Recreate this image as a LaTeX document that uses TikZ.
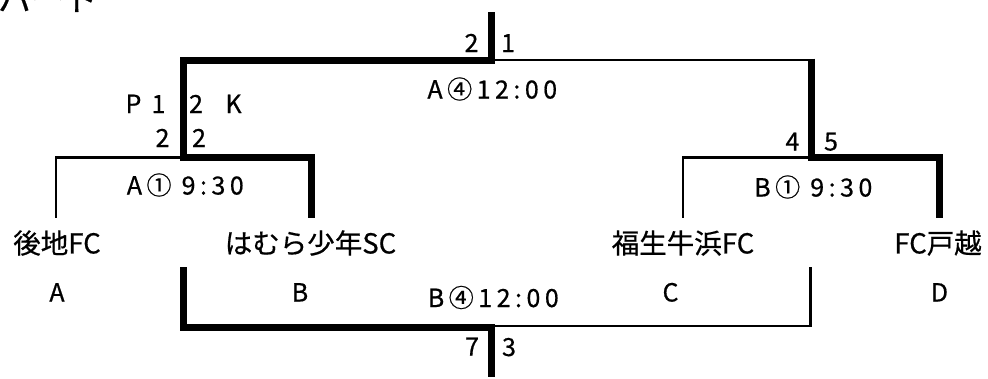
\documentclass[tikz,border=0pt]{standalone}
\usepackage{fontspec}
\setmainfont[FakeBold=0.6]{Noto Sans CJK JP}
\newfontfamily\labfont[FakeBold=0.6]{Noto Sans CJK JP}
\newfontfamily\timefont[LetterSpace=18,FakeBold=0.6]{Noto Sans CJK JP}
\begin{document}
\begin{tikzpicture}[x=1pt,y=-1pt,
  win/.style={line width=7pt, line join=miter},
  lose/.style={line width=2.5pt, line join=miter},
  team/.style={font=\fontsize{27.5}{30}\selectfont, inner sep=0pt, text height=24.2pt, text depth=3.3pt},
  lab/.style={font=\labfont\fontsize{25}{30}\selectfont, inner sep=0pt, text height=22pt, text depth=3pt},
  tim/.style={font=\timefont\fontsize{25}{30}\selectfont, inner sep=0pt, text height=22pt, text depth=3pt}]
\clip (0,0) rectangle (988,378);
\useasboundingbox (0,0) rectangle (988,378);
% coordinates of the bracket
\coordinate (top) at (491,12);
\coordinate (fin) at (491,60);
\coordinate (lw) at (183.5,60);
\coordinate (rw) at (811,60);
\coordinate (rwt) at (811,58.5);
\coordinate (ab) at (183.5,157.5);
\coordinate (aL) at (56,157.5);
\coordinate (aE) at (56,218);
\coordinate (bR) at (311,157.5);
\coordinate (bE) at (311,218);
\coordinate (cd) at (811,157.5);
\coordinate (cL) at (683,157.5);
\coordinate (cE) at (683,218);
\coordinate (dR) at (939,157.5);
\coordinate (dE) at (939,218);
\coordinate (tl) at (183.5,267);
\coordinate (tlc) at (183.5,327.5);
\coordinate (tm) at (491,327.5);
\coordinate (tmt) at (491,324);
\coordinate (tb) at (491,377);
\coordinate (tmr) at (491,326);
\coordinate (trc) at (810.5,326);
\coordinate (tr) at (810.5,267);
% final
\draw[win] (top) -- (fin) -- (lw) -- (ab) -- (bR) -- (bE);
\draw[lose] (fin) -- (rw);
\draw[win] (rwt) -- (cd) -- (dR) -- (dE);
\draw[lose] (ab) -- (aL) -- (aE);
\draw[lose] (cd) -- (cL) -- (cE);
% third place
\draw[win] (tl) -- (tlc) -- (tm);
\draw[win] (tmt) -- (tb);
\draw[lose] (tmr) -- (trc) -- (tr);
% title
\node[anchor=base west, font=\fontsize{33}{36}\selectfont, inner sep=0pt] (title) at (-2,11) {パート};
% scores
\node[lab] (sf1) at (471.5,42.5) {2};
\node[lab] (sf2) at (508,42.5) {1};
\node[lab] (pkp) at (133.5,103.5) {P};
\node[lab] (pk1) at (158.5,103.5) {1};
\node[lab] (pk2) at (196,103.5) {2};
\node[lab] (pkk) at (233.5,103.5) {K};
\node[lab] (sa) at (162.5,137.5) {2};
\node[lab] (sb) at (199,137.5) {2};
\node[lab] (sc) at (792.5,141) {4};
\node[lab] (sd) at (831,141) {5};
\node[lab] (s3l) at (472,346) {7};
\node[lab] (s3r) at (509,346.5) {3};
% times
\node[tim] (tfin) at (492.3,89) {A④12:00};
\node[tim] (tA1) at (185.3,185) {A① 9:30};
\node[tim] (tB1) at (813.3,187) {B① 9:30};
\node[tim] (tB4) at (493.3,297.5) {B④12:00};
% teams
\node[team] (ta) at (57,243) {後地FC};
\node[team] (tbn) at (310.5,243) {はむら少年SC};
\node[team] (tc) at (683,243) {福生牛浜FC};
\node[team] (td) at (938,243) {FC戸越};
% letters
\node[lab] (la) at (57,292) {A};
\node[lab] (lb) at (300,292) {B};
\node[lab] (lc) at (670.5,292) {C};
\node[lab] (ld) at (939.5,292) {D};
\end{tikzpicture}
\end{document}
